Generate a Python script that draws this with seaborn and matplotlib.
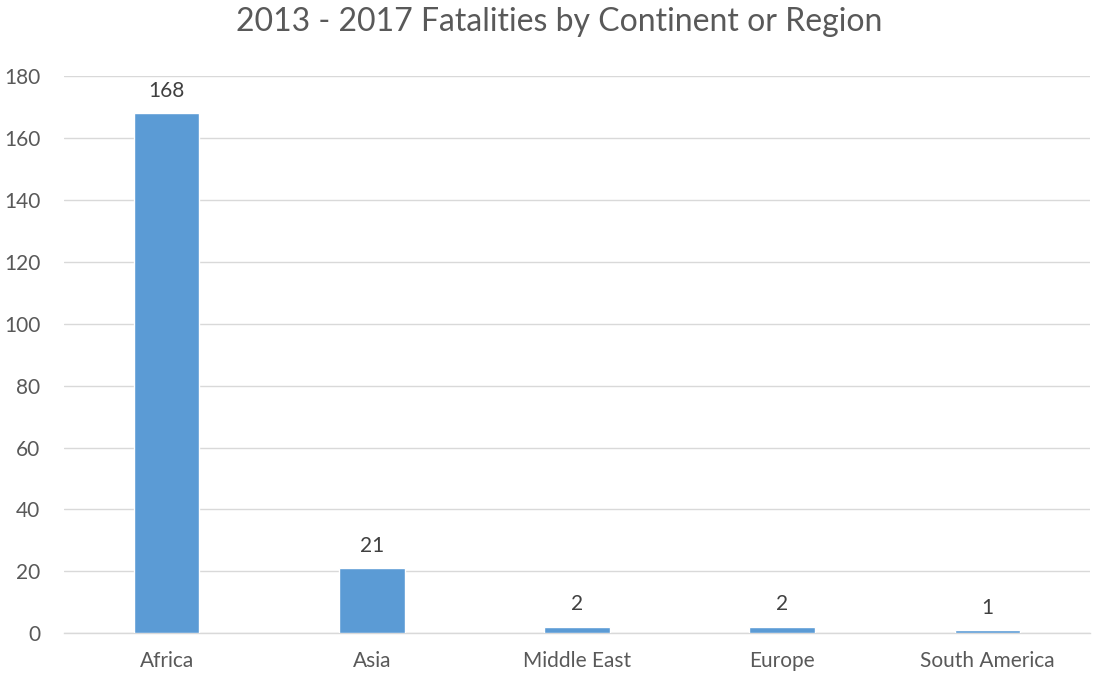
import matplotlib
matplotlib.use("Agg")
import matplotlib.pyplot as plt
import seaborn as sns
import pandas as pd

regions = ["Africa", "Asia", "Middle East", "Europe", "South America"]
fatalities = [168, 21, 2, 2, 1]
yticks = [0, 20, 40, 60, 80, 100, 120, 140, 160, 180]

sns.set_theme(style="white")
plt.rcParams['font.family'] = ['Lato', 'DejaVu Sans']

df = pd.DataFrame({"region": regions, "fatalities": fatalities})

fig = plt.figure(figsize=(10.94, 6.75), dpi=100)
ax = fig.add_axes([0.0585, 0.062, 0.938, 0.825])

sns.barplot(data=df, x="region", y="fatalities", color="#5B9BD5", width=0.32,
            saturation=1, ax=ax, zorder=3)

ax.set_ylim(0, 180)
ax.set_yticks(yticks)
ax.set_xlim(-0.5, len(regions) - 0.5)
ax.grid(axis="y", color="#D9D9D9", linewidth=1, zorder=0)
ax.set_axisbelow(True)
for s in ["top", "right", "left"]:
    ax.spines[s].set_visible(False)
ax.spines["bottom"].set_color("#D9D9D9")
ax.spines["bottom"].set_linewidth(1)
ax.set_xlabel("")
ax.set_ylabel("")
ax.tick_params(axis="both", colors="#595959", labelsize=15, length=0)
ax.tick_params(axis="x", pad=13)
ax.tick_params(axis="y", pad=17)
for lbl in ax.get_yticklabels():
    lbl.set_horizontalalignment("right")

for container in ax.containers:
    ax.bar_label(container, labels=[str(v) for v in fatalities], padding=9,
                 color="#404040", fontsize=15)

fig.suptitle("2013 - 2017 Fatalities by Continent or Region", x=0.511, y=0.99,
             fontsize=23, color="#595959")

fig.savefig("out.png", dpi=100)
